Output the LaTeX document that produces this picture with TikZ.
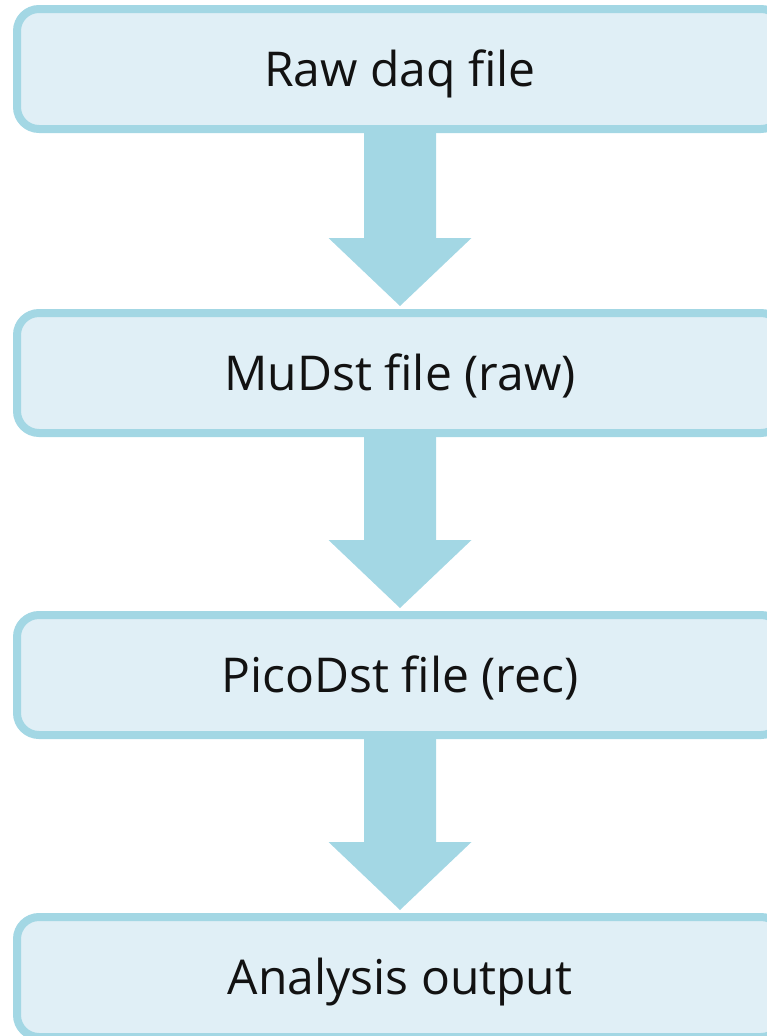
\documentclass[tikz,border=0pt]{standalone}
\usepackage{fontspec}
\setmainfont{Open Sans}
\usetikzlibrary{calc}
\definecolor{stageline}{HTML}{A3D7E4}
\definecolor{stagefill}{HTML}{E0EFF6}
\tikzset{
  stage/.style={rectangle, draw=stageline, fill=stagefill, line width=8pt,
    rounded corners=22pt, minimum width=766pt, minimum height=120pt,
    text height=35pt, text depth=0pt,
    text=black!93, font=\fontsize{48}{58}\selectfont},
  flow/.style={fill=stageline}
}
\newcommand{\flowarrow}[2]{%
  \fill[flow] ($(#1.south)+(-36,0)$) -- ($(#2.north)+(-36,-71)$)
    -- ($(#2.north)+(-71.5,-71)$) -- ($(#2.north)+(0,-3)$)
    -- ($(#2.north)+(71.5,-71)$) -- ($(#2.north)+(36,-71)$)
    -- ($(#1.south)+(36,0)$) -- cycle;}
\begin{document}
\begin{tikzpicture}[x=1pt, y=-1pt]
   \useasboundingbox (0,0) rectangle (767,1036);
   \clip (0,0) rectangle (767,1036);
   \node[stage] (raw) at (400,69) {Raw daq file};
   \node[stage] (mudst) at (400,373) {MuDst file (raw)};
   \node[stage] (pico) at (400,675) {PicoDst file (rec)};
   \node[stage] (ana) at (400,977) {Analysis output};

   % data flow between stages
   \flowarrow{raw}{mudst}
   \flowarrow{mudst}{pico}
   \flowarrow{pico}{ana}
\end{tikzpicture}
\end{document}
